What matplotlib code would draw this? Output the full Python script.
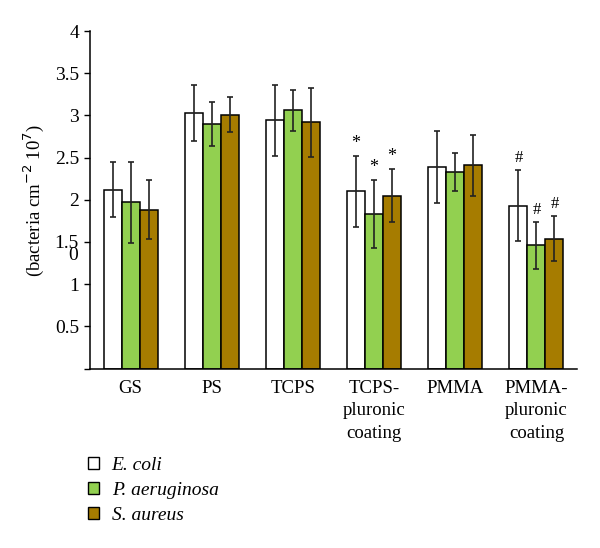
import matplotlib
matplotlib.use("Agg")
import matplotlib.pyplot as plt
import numpy as np
from matplotlib.patches import Patch

categories = ["GS", "PS", "TCPS", "TCPS-\npluronic\ncoating", "PMMA", "PMMA-\npluronic\ncoating"]
series_names = ["E. coli", "P. aeruginosa", "S. aureus"]
ecoli = [2.12, 3.03, 2.94, 2.10, 2.39, 1.93]
ecoli_err = [0.33, 0.33, 0.42, 0.42, 0.43, 0.42]
paer = [1.97, 2.90, 3.06, 1.83, 2.33, 1.46]
paer_err = [0.48, 0.26, 0.24, 0.40, 0.23, 0.28]
saur = [1.88, 3.01, 2.92, 2.05, 2.41, 1.54]
saur_err = [0.35, 0.21, 0.41, 0.31, 0.36, 0.27]
marks = ["", "", "", "*", "", "#"]
yticks = [0.5, 1, 1.5, 2, 2.5, 3, 3.5, 4]

colors = ["#ffffff", "#92d050", "#a67c00"]
serif = "Liberation Serif"

fig = plt.figure(figsize=(6.0, 5.48), dpi=100)
ax = fig.add_axes([0.15, 1 - 368.5 / 548, 0.8117, (368.5 - 31) / 548])

x = np.arange(len(categories))
w = 0.222
vals = [ecoli, paer, saur]
errs = [ecoli_err, paer_err, saur_err]
for k in range(3):
    xs = x + (k - 1) * w
    ax.bar(xs, vals[k], w, color=colors[k], edgecolor="black", linewidth=1.1, zorder=2)
    ax.errorbar(xs, vals[k], yerr=errs[k], fmt="none", ecolor="#222222",
                elinewidth=1.2, capsize=2.5, capthick=1.2, zorder=3)
    for i, m in enumerate(marks):
        if m:
            ax.annotate(m, (xs[i], vals[k][i] + errs[k][i]), xytext=(0, 3),
                        textcoords="offset points", ha="center", va="bottom",
                        fontsize=13 if m == "*" else 12, family=serif)

ax.set_xlim(-0.5, 5.5)
ax.set_ylim(0, 4)
ax.set_yticks([0] + yticks)
ax.set_yticklabels([""] + [f"{t:g}" for t in yticks], family=serif, fontsize=14)
ax.set_xticks(x)
ax.set_xticklabels(categories, family=serif, fontsize=13.5, linespacing=1.45)
ax.tick_params(axis="x", length=0, pad=8)
ax.tick_params(axis="y", direction="out", length=4, width=1, pad=4)
for s in ["top", "right"]:
    ax.spines[s].set_visible(False)
ax.spines["left"].set_linewidth(1.1)
ax.spines["bottom"].set_linewidth(1.1)

fig.text(34 / 600, 1 - 200 / 548, r"(bacteria cm$^{-2}$ 10$^{7}$)", rotation=90,
         ha="center", va="center", family=serif, fontsize=13.5)
fig.text(73 / 600, 1 - 256 / 548, "0", ha="center", va="center", family=serif, fontsize=14)

handles = [Patch(facecolor=c, edgecolor="black", linewidth=1) for c in colors]
leg = fig.legend(handles, series_names, loc="upper left", bbox_to_anchor=(88 / 600, 1 - 457 / 548),
                 frameon=False, handlelength=0.57, handleheight=0.57, handletextpad=0.65,
                 labelspacing=0.42, borderpad=0, borderaxespad=0,
                 prop={"family": serif, "style": "italic", "size": 14})

fig.savefig("out.png", dpi=100)
